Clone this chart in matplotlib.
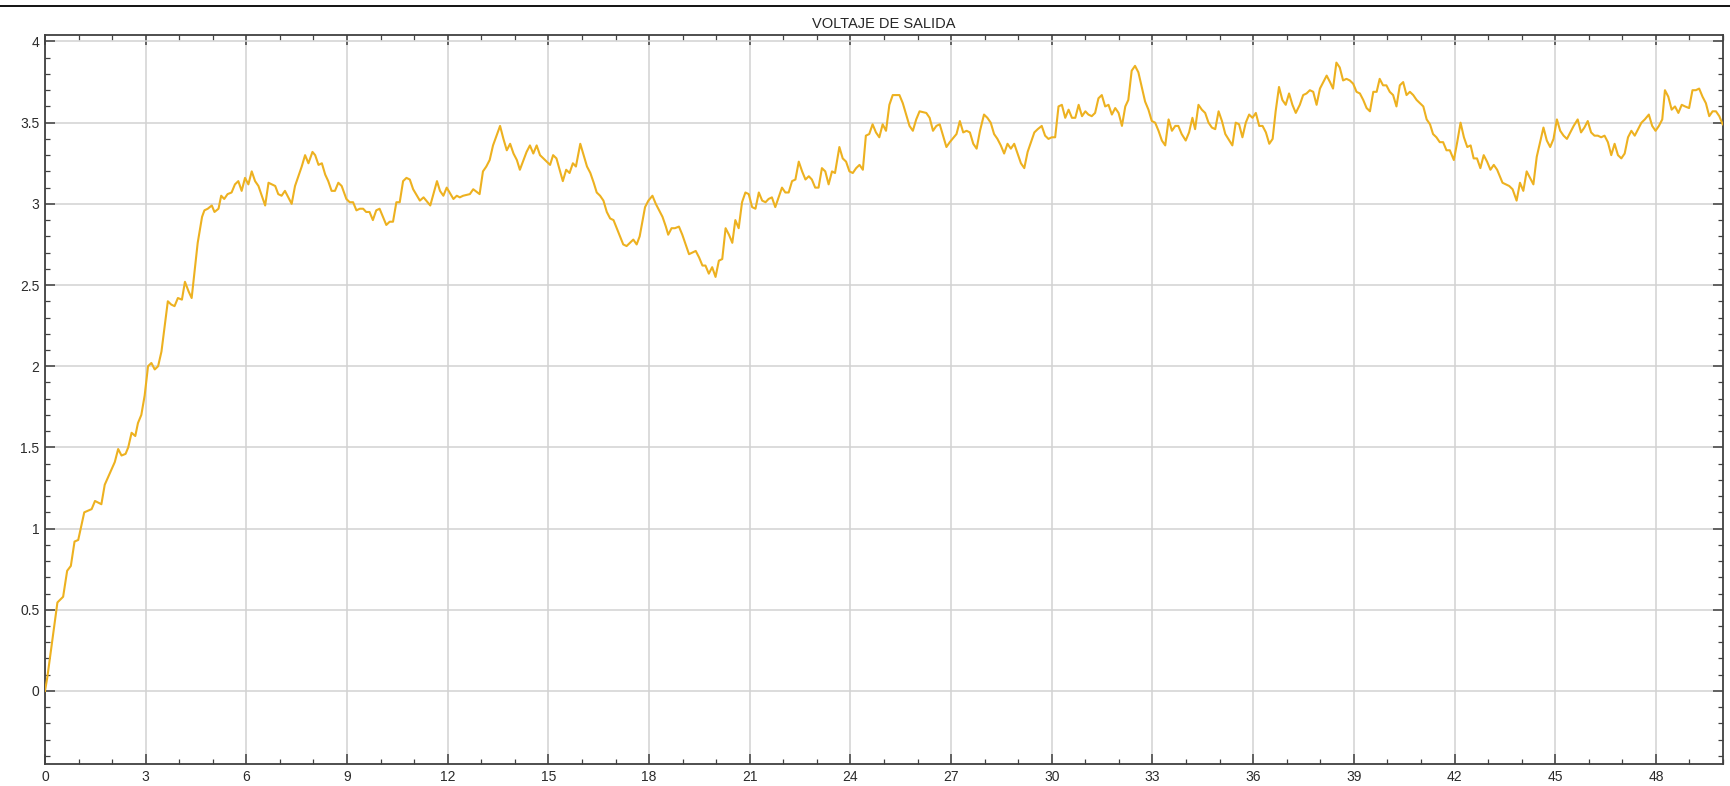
import numpy as np
import matplotlib
matplotlib.use('Agg')
from matplotlib import pyplot as plt
from matplotlib.lines import Line2D
from matplotlib.ticker import MultipleLocator, FormatStrFormatter

plt.rcParams['font.family'] = ['Liberation Sans', 'DejaVu Sans']

TITLE = 'VOLTAJE DE SALIDA'

tiempo = [
    0.0, 0.07, 0.37, 0.54, 0.66, 0.77, 0.88, 0.99, 1.17, 1.39, 1.49, 1.68, 1.78, 2.08, 2.18, 2.28, 2.40, 2.48,
    2.58, 2.69, 2.77, 2.87, 2.97, 3.07, 3.17, 3.27, 3.37, 3.47, 3.66, 3.76, 3.86, 3.96, 4.08, 4.17, 4.28, 4.37,
    4.55, 4.68, 4.75, 4.85, 4.97, 5.05, 5.17, 5.25, 5.34, 5.44, 5.56, 5.66, 5.76, 5.86, 5.96, 6.06, 6.16, 6.26,
    6.36, 6.56, 6.66, 6.86, 6.95, 7.05, 7.15, 7.35, 7.45, 7.65, 7.75, 7.85, 7.97, 8.05, 8.15, 8.25, 8.35, 8.44,
    8.54, 8.64, 8.74, 8.84, 8.98, 9.08, 9.18, 9.28, 9.38, 9.48, 9.57, 9.67, 9.77, 9.87, 9.97, 10.17, 10.27, 10.37,
    10.47, 10.57, 10.67, 10.77, 10.87, 10.97, 11.17, 11.28, 11.48, 11.68, 11.77, 11.87, 11.97, 12.17, 12.27,
    12.36, 12.46, 12.66, 12.76, 12.95, 13.05, 13.15, 13.25, 13.35, 13.56, 13.66, 13.76, 13.86, 13.96, 14.06,
    14.15, 14.35, 14.45, 14.55, 14.65, 14.75, 14.85, 15.05, 15.14, 15.24, 15.43, 15.53, 15.63, 15.73, 15.82,
    15.95, 16.15, 16.25, 16.35, 16.44, 16.54, 16.64, 16.74, 16.84, 16.94, 17.23, 17.33, 17.53, 17.63, 17.72,
    17.88, 17.98, 18.10, 18.20, 18.30, 18.40, 18.50, 18.57, 18.67, 18.77, 18.89, 18.99, 19.09, 19.19, 19.29,
    19.39, 19.49, 19.59, 19.68, 19.78, 19.88, 19.98, 20.08, 20.18, 20.28, 20.38, 20.48, 20.57, 20.67, 20.77,
    20.87, 20.97, 21.07, 21.17, 21.27, 21.37, 21.47, 21.56, 21.66, 21.76, 21.86, 21.96, 22.06, 22.16, 22.26,
    22.36, 22.46, 22.56, 22.66, 22.76, 22.85, 22.95, 23.05, 23.15, 23.25, 23.35, 23.45, 23.54, 23.67, 23.77,
    23.87, 23.97, 24.07, 24.17, 24.27, 24.37, 24.46, 24.56, 24.66, 24.76, 24.86, 24.96, 25.06, 25.16, 25.26,
    25.46, 25.56, 25.66, 25.76, 25.86, 25.96, 26.06, 26.26, 26.36, 26.46, 26.56, 26.66, 26.76, 26.86, 26.96,
    27.16, 27.26, 27.36, 27.46, 27.56, 27.66, 27.76, 27.86, 27.98, 28.08, 28.18, 28.28, 28.38, 28.48, 28.58,
    28.68, 28.78, 28.88, 28.98, 29.08, 29.18, 29.28, 29.48, 29.58, 29.70, 29.80, 29.90, 30.0, 30.10, 30.20,
    30.30, 30.40, 30.50, 30.60, 30.70, 30.80, 30.90, 31.0, 31.09, 31.19, 31.29, 31.39, 31.49, 31.59, 31.69,
    31.79, 31.89, 31.99, 32.09, 32.19, 32.28, 32.38, 32.48, 32.58, 32.68, 32.78, 32.88, 32.98, 33.08, 33.18,
    33.28, 33.38, 33.48, 33.58, 33.68, 33.77, 33.87, 33.99, 34.09, 34.19, 34.27, 34.37, 34.47, 34.57, 34.67,
    34.77, 34.87, 34.97, 35.07, 35.17, 35.26, 35.38, 35.48, 35.58, 35.68, 35.78, 35.88, 35.98, 36.08, 36.18,
    36.28, 36.38, 36.48, 36.58, 36.67, 36.77, 36.87, 36.97, 37.07, 37.17, 37.27, 37.39, 37.49, 37.59, 37.69,
    37.79, 37.89, 37.99, 38.09, 38.19, 38.29, 38.38, 38.48, 38.58, 38.68, 38.78, 38.88, 38.98, 39.08, 39.18,
    39.28, 39.38, 39.48, 39.58, 39.68, 39.77, 39.87, 39.97, 40.07, 40.17, 40.27, 40.37, 40.47, 40.57, 40.67,
    40.77, 40.87, 40.97, 41.07, 41.17, 41.27, 41.36, 41.46, 41.56, 41.66, 41.76, 41.86, 41.98, 42.08, 42.18,
    42.28, 42.38, 42.48, 42.57, 42.67, 42.77, 42.87, 42.97, 43.07, 43.17, 43.27, 43.43, 43.53, 43.63, 43.73,
    43.85, 43.95, 44.05, 44.15, 44.25, 44.35, 44.45, 44.65, 44.75, 44.85, 44.95, 45.05, 45.15, 45.25, 45.35,
    45.45, 45.55, 45.67, 45.77, 45.87, 45.97, 46.07, 46.17, 46.27, 46.37, 46.47, 46.57, 46.67, 46.77, 46.87,
    46.97, 47.07, 47.17, 47.27, 47.37, 47.47, 47.57, 47.67, 47.79, 47.89, 47.99, 48.09, 48.19, 48.27, 48.37,
    48.47, 48.57, 48.67, 48.77, 48.87, 48.99, 49.09, 49.19, 49.29, 49.39, 49.49, 49.59, 49.69, 49.79, 49.89,
    49.99,
]

voltaje = [
    0.0, 0.085, 0.545, 0.58, 0.74, 0.77, 0.92, 0.93, 1.10, 1.12, 1.17, 1.15, 1.27, 1.41, 1.49, 1.45, 1.46, 1.50,
    1.59, 1.57, 1.65, 1.70, 1.82, 2.0, 2.02, 1.98, 2.0, 2.09, 2.40, 2.38, 2.37, 2.42, 2.41, 2.52, 2.46, 2.42,
    2.76, 2.92, 2.96, 2.97, 2.99, 2.95, 2.97, 3.05, 3.03, 3.06, 3.07, 3.12, 3.14, 3.08, 3.16, 3.12, 3.20, 3.14,
    3.11, 2.99, 3.13, 3.11, 3.06, 3.05, 3.08, 3.00, 3.11, 3.23, 3.30, 3.25, 3.32, 3.30, 3.24, 3.25, 3.18, 3.14,
    3.08, 3.08, 3.13, 3.11, 3.03, 3.01, 3.01, 2.96, 2.97, 2.97, 2.95, 2.95, 2.90, 2.96, 2.97, 2.87, 2.89, 2.89,
    3.01, 3.01, 3.14, 3.16, 3.15, 3.09, 3.02, 3.04, 2.99, 3.14, 3.08, 3.05, 3.10, 3.03, 3.05,
    3.04, 3.05, 3.06, 3.09, 3.06, 3.20, 3.23, 3.27, 3.36, 3.48, 3.40, 3.33, 3.37, 3.31, 3.27,
    3.21, 3.32, 3.36, 3.31, 3.36, 3.30, 3.28, 3.24, 3.30, 3.28, 3.14, 3.21, 3.19, 3.25, 3.23,
    3.37, 3.23, 3.19, 3.13, 3.07, 3.05, 3.02, 2.95, 2.91, 2.90, 2.75, 2.74, 2.78, 2.75, 2.80,
    2.98, 3.02, 3.05, 3.00, 2.96, 2.92, 2.86, 2.81, 2.85, 2.85, 2.86, 2.81, 2.75, 2.69, 2.70,
    2.71, 2.67, 2.62, 2.62, 2.57, 2.61, 2.55, 2.65, 2.66, 2.85, 2.81, 2.76, 2.90, 2.85, 3.01,
    3.07, 3.06, 2.98, 2.97, 3.07, 3.02, 3.01, 3.03, 3.04, 2.98, 3.04, 3.10, 3.07, 3.07, 3.14,
    3.15, 3.26, 3.20, 3.15, 3.17, 3.15, 3.10, 3.10, 3.22, 3.20, 3.12, 3.20, 3.19, 3.35, 3.28,
    3.26, 3.20, 3.19, 3.22, 3.24, 3.21, 3.42, 3.43, 3.49, 3.44, 3.41, 3.49, 3.45, 3.61, 3.67,
    3.67, 3.62, 3.55, 3.48, 3.45, 3.52, 3.57, 3.56, 3.53, 3.45, 3.48, 3.49, 3.42, 3.35, 3.38,
    3.43, 3.51, 3.44, 3.45, 3.44, 3.37, 3.34, 3.45, 3.55, 3.53, 3.50, 3.43, 3.40, 3.36, 3.31,
    3.37, 3.34, 3.37, 3.31, 3.25, 3.22, 3.32, 3.44, 3.46, 3.48, 3.42, 3.40, 3.41, 3.41, 3.60,
    3.61, 3.53, 3.58, 3.53, 3.53, 3.61, 3.54, 3.57, 3.55, 3.54, 3.56, 3.65, 3.67, 3.60, 3.61,
    3.55, 3.59, 3.56, 3.48, 3.60, 3.64, 3.82, 3.85, 3.81, 3.72, 3.63, 3.58, 3.51, 3.50, 3.45,
    3.39, 3.36, 3.52, 3.45, 3.48, 3.48, 3.43, 3.39, 3.44, 3.53, 3.46, 3.61, 3.58, 3.56, 3.50,
    3.47, 3.46, 3.57, 3.51, 3.43, 3.40, 3.36, 3.50, 3.49, 3.41, 3.50, 3.55, 3.53, 3.56, 3.48,
    3.48, 3.44, 3.37, 3.40, 3.57, 3.72, 3.64, 3.61, 3.68, 3.61, 3.56, 3.61, 3.67, 3.68, 3.70,
    3.69, 3.61, 3.71, 3.75, 3.79, 3.75, 3.71, 3.87, 3.84, 3.76, 3.77, 3.76, 3.74, 3.69, 3.68,
    3.64, 3.59, 3.57, 3.69, 3.69, 3.77, 3.73, 3.73, 3.69, 3.67, 3.60, 3.73, 3.75, 3.67, 3.69,
    3.67, 3.64, 3.62, 3.60, 3.52, 3.49, 3.43, 3.41, 3.38, 3.38, 3.33, 3.33, 3.27, 3.38, 3.50,
    3.41, 3.35, 3.36, 3.28, 3.28, 3.22, 3.30, 3.26, 3.21, 3.24, 3.21, 3.13, 3.12, 3.11, 3.09,
    3.02, 3.13, 3.08, 3.20, 3.16, 3.12, 3.29, 3.47, 3.39, 3.35, 3.40, 3.52, 3.45, 3.42, 3.40,
    3.44, 3.48, 3.52, 3.44, 3.47, 3.51, 3.44, 3.42, 3.42, 3.41, 3.42, 3.38, 3.30, 3.37, 3.30,
    3.28, 3.31, 3.41, 3.45, 3.42, 3.46, 3.50, 3.52, 3.55, 3.48, 3.45, 3.48, 3.52, 3.70, 3.66,
    3.58, 3.60, 3.56, 3.61, 3.60, 3.59, 3.70, 3.70, 3.71, 3.66, 3.62, 3.54, 3.57, 3.57, 3.54,
    3.49,
]

fig = plt.figure(figsize=(17.30, 7.86), dpi=100)
ax = fig.add_axes([45 / 1730, 22 / 786, 1678 / 1730, 729 / 786])

# linea negra superior de la ventana
fig.add_artist(Line2D([0, 1], [1 - 5.5 / 786] * 2, color='black', lw=1.3, transform=fig.transFigure))

ax.plot(tiempo, voltaje, color='#EDB120', lw=1.5, zorder=3)

ax.set_xlim(0, 50)
ax.set_ylim(-0.45, 4.04)
ax.xaxis.set_major_locator(MultipleLocator(3))
ax.xaxis.set_minor_locator(MultipleLocator(1))
ax.yaxis.set_major_locator(MultipleLocator(0.5))
ax.yaxis.set_minor_locator(MultipleLocator(0.1))
ax.yaxis.set_major_formatter(FormatStrFormatter('%g'))

ax.grid(True, which='major', color='#d2d2d2', lw=1.1)
ax.set_axisbelow(True)

ax.tick_params(which='both', direction='in', top=True, right=True, colors='#404040',
               labelcolor='#2b2b2b', labelsize=10)
ax.tick_params(which='major', length=7, width=1.1, pad=4)
ax.tick_params(which='minor', length=3.5, width=0.9)
for s in ax.spines.values():
    s.set_color('#404040')
    s.set_linewidth(1.3)

ax.set_title(TITLE, fontsize=10.5, color='#262626', pad=5)

fig.savefig('out.png', dpi=100, facecolor='white')
